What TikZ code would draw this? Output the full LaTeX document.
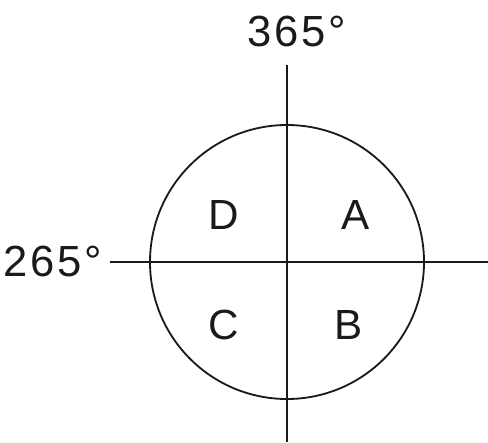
\documentclass[tikz,border=0pt]{standalone}
\usepackage{fontspec}
\setmainfont{Liberation Sans}
\usetikzlibrary{positioning,calc}
\definecolor{Ink}{HTML}{1A1A1A}
\newcommand{\gap}{\kern2pt}
\tikzset{
  axis/.style={draw=Ink,line width=1.3pt},
  dialring/.style={circle,draw=Ink,line width=1.3pt,minimum size=274*0.025cm,inner sep=0pt},
  quad/.style={font=\fontsize{30}{36}\selectfont,text=Ink,inner sep=0pt},
  deg/.style={font=\fontsize{31}{37}\selectfont,text=Ink,inner sep=0pt}
}
\begin{document}
\begin{tikzpicture}[x=0.025cm,y=-0.025cm]
  \useasboundingbox (0,0) rectangle (488,442);
  \node[dialring] (dial) at (287,262) {};
  \coordinate (top) at (287,65);
  \coordinate (bottom) at (287,442);
  \coordinate (left) at (110,262);
  \coordinate (right) at (488,262);
  \draw[axis] (top) -- (bottom);
  \draw[axis] (left) -- (right);
  \node[deg] (north) at (297,31) {3\gap6\gap5\gap°};
  \node[deg] (west) at (53,261) {2\gap6\gap5\gap°};
  \node[quad] (qd) at (224,215) {D};
  \node[quad] (qa) at (356,215) {A};
  \node[quad] (qc) at (224,325) {C};
  \node[quad] (qb) at (349,325) {B};
\end{tikzpicture}
\end{document}
